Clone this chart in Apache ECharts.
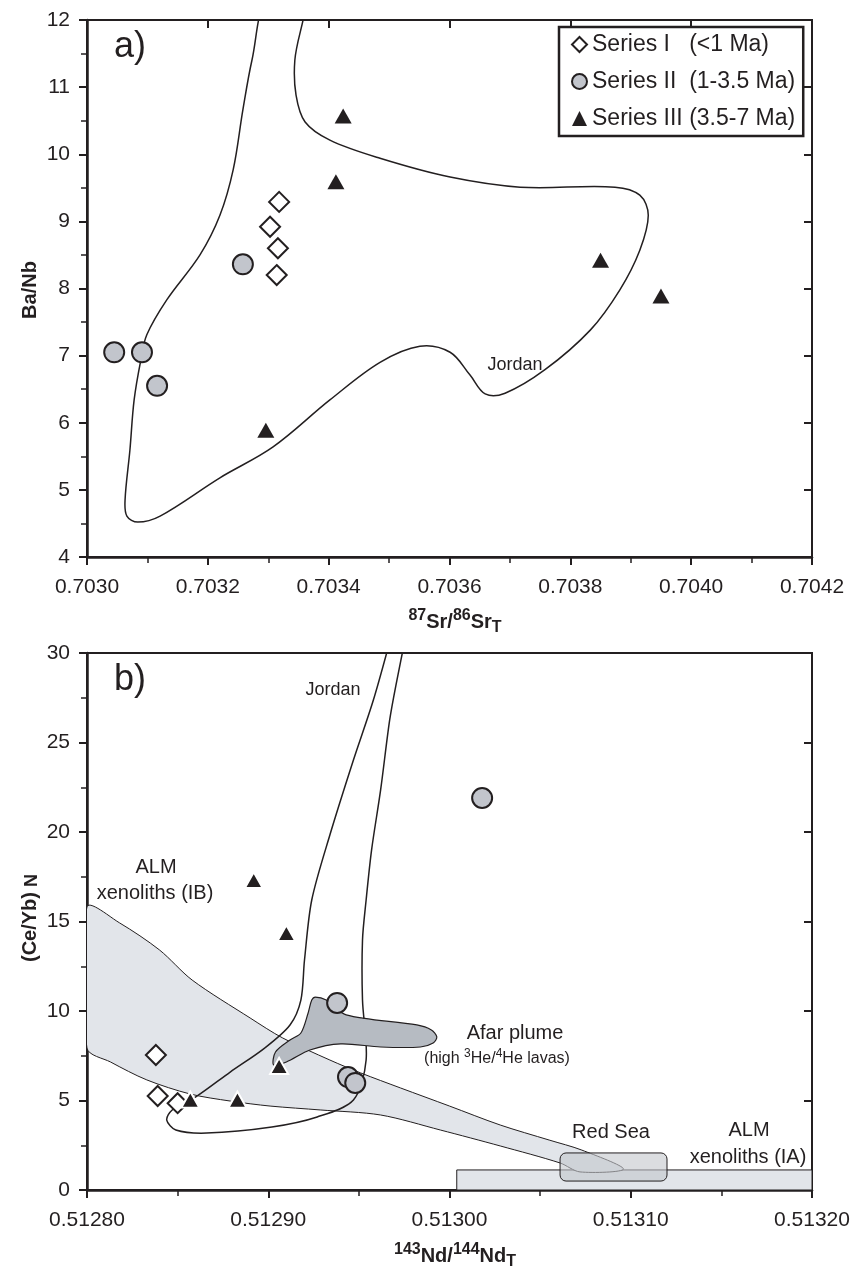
<!DOCTYPE html>
<html>
<head>
<meta charset="utf-8">
<script src="https://cdn.jsdelivr.net/npm/echarts@6/dist/echarts.min.js"></script>
<style>
html, body { margin: 0; padding: 0; background: #fff; }
#chart { width: 861px; height: 1272px; }
</style>
</head>
<body>
<div id="chart"></div>
<script>
const FONT = '"Liberation Sans", Arial, Helvetica, sans-serif';
const INK = '#231f20';

const legendNames = ['Series I   (<1 Ma)', 'Series II  (1-3.5 Ma)', 'Series III (3.5-7 Ma)'];

// a) Ba/Nb vs 87Sr/86Sr
const srI = [0.703318, 0.703303, 0.703316, 0.703314];
const baNbI = [9.29, 8.92, 8.60, 8.20];
const srII = [0.703258, 0.703045, 0.703091, 0.703116];
const baNbII = [8.36, 7.05, 7.05, 6.55];
const srIII = [0.703424, 0.703412, 0.703296, 0.70385, 0.70395];
const baNbIII = [10.57, 9.59, 5.89, 8.42, 7.89];

// b) (Ce/Yb)N vs 143Nd/144Nd
const ndI = [0.512838, 0.512839, 0.512850];
const ceYbI = [7.54, 5.25, 4.85];
const ndII = [0.512938, 0.513018, 0.512944, 0.512948];
const ceYbII = [10.45, 21.9, 6.31, 5.98];
const ndIII = [0.512857, 0.512883, 0.512906, 0.512892, 0.512910];
const ceYbIII = [5.05, 5.05, 6.93, 17.32, 14.36];

// field outlines
const jordanA = [
  [0.703301, 12.4], [0.703273, 11.40], [0.703258, 10.66], [0.703242, 9.77], [0.703220, 9.09],
  [0.703187, 8.50], [0.703132, 7.83], [0.703099, 7.31], [0.703089, 6.93], [0.703078, 6.34],
  [0.703071, 5.59], [0.703063, 4.85], [0.703066, 4.61], [0.703084, 4.52], [0.703121, 4.61],
  [0.703220, 5.18], [0.703308, 5.64], [0.703402, 6.34], [0.703485, 6.90], [0.703551, 7.14],
  [0.703601, 7.05], [0.703634, 6.71], [0.703659, 6.43], [0.703692, 6.44], [0.703758, 6.79],
  [0.703833, 7.38], [0.703882, 7.98], [0.703915, 8.57], [0.703929, 9.09], [0.703915, 9.39],
  [0.703874, 9.51], [0.703717, 9.51], [0.703601, 9.66], [0.703485, 9.94], [0.703402, 10.21],
  [0.703361, 10.48], [0.703346, 10.88], [0.703344, 11.40], [0.703359, 12.4]
];
const jordanB = [
  [0.512968, 31], [0.512958, 27.37], [0.512947, 24.02], [0.512934, 19.83], [0.512924, 16.20],
  [0.512920, 12.85], [0.512918, 10.61], [0.512912, 9.22], [0.512898, 7.93], [0.512879, 6.59],
  [0.512860, 5.20], [0.512847, 4.47], [0.512844, 3.91], [0.512849, 3.35], [0.512866, 3.18],
  [0.512902, 3.52], [0.512927, 4.08], [0.512947, 5.03], [0.512954, 7.26], [0.512952, 10.61],
  [0.512952, 13.97], [0.512954, 16.20], [0.512957, 18.99], [0.512962, 22.35], [0.512967, 26.26],
  [0.512971, 28.49], [0.512976, 31]
];
const almIB = [
  [0.512800, 15.81], [0.512818, 14.92], [0.512840, 13.41], [0.512858, 11.73], [0.512890, 9.61],
  [0.512908, 8.49], [0.512934, 7.26], [0.512951, 6.54], [0.512973, 5.70], [0.513000, 4.69],
  [0.513028, 3.63], [0.513055, 2.79], [0.513073, 2.23], [0.513096, 1.17],
  [0.513072, 1.01], [0.513061, 1.51], [0.513028, 2.46], [0.512995, 3.35], [0.512962, 4.19],
  [0.512929, 4.47], [0.512901, 4.69], [0.512879, 4.97], [0.512857, 5.36], [0.512833, 6.15],
  [0.512813, 7.15], [0.512800, 7.93]
];
const afarPlume = [
  [0.512926, 10.78], [0.512932, 10.61], [0.512943, 9.78], [0.512982, 9.22], [0.512990, 8.94],
  [0.512993, 8.55], [0.512991, 8.21], [0.512984, 7.99], [0.512962, 7.99], [0.512940, 8.16],
  [0.512923, 7.82], [0.512910, 7.15], [0.512903, 6.98], [0.512904, 7.71], [0.512912, 8.38],
  [0.512918, 8.77], [0.512922, 9.89], [0.512924, 10.61]
];
const almIA = [[0.513004, 0], [0.513004, 1.12], [0.51320, 1.12], [0.51320, 0]];
const redSeaX = [0.513061, 0.513120];
const redSeaY = [0.5, 2.07];

function zip(xs, ys) { return xs.map((x, i) => [x, ys[i]]); }

function fieldSeries(pts, xi, yi, style, z, closed, smooth) {
  return {
    type: 'custom', xAxisIndex: xi, yAxisIndex: yi, z: z, silent: true, clip: true,
    data: [pts[0]],
    renderItem: function (params, api) {
      return {
        type: closed ? 'polygon' : 'polyline',
        shape: { points: pts.map(p => api.coord(p)), smooth: smooth || 0 },
        style: style
      };
    }
  };
}

function pointSeries(name, xi, yi, data, symbol, size, itemStyle) {
  return {
    name: name, type: 'scatter', xAxisIndex: xi, yAxisIndex: yi, z: 10,
    symbol: symbol, symbolSize: size, data: data,
    itemStyle: Object.assign({ opacity: 1 }, itemStyle)
  };
}

const measureCtx = document.createElement('canvas').getContext('2d');
function fontStr(size, bold) { return (bold ? 'bold ' : '') + size + 'px ' + FONT; }
function label(text, x, y, size, bold) {
  return { type: 'text', x: x, y: y, z: 100,
    style: { text: text, font: fontStr(size, bold), fill: INK, textAlign: 'center', textVerticalAlign: 'middle' } };
}
function mixed(segs, cx, cy, rotation) {
  let total = 0;
  const widths = segs.map(s => {
    measureCtx.font = fontStr(s.size, s.bold);
    const w = measureCtx.measureText(s.t).width;
    total += w;
    return w;
  });
  let x = -total / 2;
  const children = segs.map((s, i) => {
    const el = { type: 'text', x: x, y: s.dy || 0,
      style: { text: s.t, font: fontStr(s.size, s.bold), fill: INK, textAlign: 'left', textVerticalAlign: 'middle' } };
    x += widths[i];
    return el;
  });
  return { type: 'group', x: cx, y: cy, rotation: rotation || 0, z: 100, children: children };
}

function valueAxis(grid, min, max, interval, digits, isX) {
  return {
    type: 'value', gridIndex: grid, min: min, max: max, interval: interval,
    axisLine: { show: true, onZero: false, lineStyle: { color: INK, width: 2.5 } },
    axisTick: { show: true, inside: false, length: 8, lineStyle: { color: INK, width: 2 } },
    minorTick: { show: true, splitNumber: 2, length: 6, lineStyle: { color: INK, width: 1.5 } },
    splitLine: { show: false },
    axisLabel: {
      margin: isX ? 20 : 17, fontSize: 21, color: INK, fontFamily: FONT,
      formatter: v => digits ? v.toFixed(digits) : String(Math.round(v))
    }
  };
}
function innerTicks(grid, min, max, interval) {
  return {
    type: 'value', gridIndex: grid, min: min, max: max, interval: interval,
    axisLine: { show: false }, axisLabel: { show: false }, splitLine: { show: false },
    axisTick: { show: true, inside: true, length: 8, lineStyle: { color: INK, width: 2 } }
  };
}

const diamondStyle = { color: '#ffffff', borderColor: INK, borderWidth: 2 };
const circleStyle = { color: '#c2c5cc', borderColor: INK, borderWidth: 2 };
const triA = { color: INK };
const triB = { color: INK, borderColor: '#ffffff', borderWidth: 2 };

const option = {
  animation: false,
  backgroundColor: '#ffffff',
  grid: [
    { left: 87, top: 20, width: 725, height: 537, show: true, borderColor: INK, borderWidth: 2 },
    { left: 87, top: 653, width: 725, height: 537, show: true, borderColor: INK, borderWidth: 2 }
  ],
  xAxis: [
    valueAxis(0, 0.7030, 0.7042, 0.0002, 4, true),
    innerTicks(0, 0.7030, 0.7042, 0.0002),
    valueAxis(1, 0.5128, 0.5132, 0.0001, 5, true),
    innerTicks(1, 0.5128, 0.5132, 0.0001)
  ],
  yAxis: [
    valueAxis(0, 4, 12, 1, 0, false),
    innerTicks(0, 4, 12, 1),
    valueAxis(1, 0, 30, 5, 0, false),
    innerTicks(1, 0, 30, 5)
  ],
  legend: {
    left: 559, top: 27, orient: 'vertical', itemGap: 14,
    borderColor: INK, borderWidth: 2.5, padding: [6, 8, 6, 12],
    itemWidth: 15, itemHeight: 15, selectedMode: false,
    textStyle: { fontSize: 23, color: INK, fontFamily: FONT },
    data: legendNames
  },
  series: [
    fieldSeries(jordanA, 0, 0, { fill: 'none', stroke: INK, lineWidth: 1.5 }, 2, true, 0.35),
    pointSeries(legendNames[0], 0, 0, zip(srI, baNbI), 'diamond', 20, diamondStyle),
    pointSeries(legendNames[1], 0, 0, zip(srII, baNbII), 'circle', 20, circleStyle),
    pointSeries(legendNames[2], 0, 0, zip(srIII, baNbIII), 'triangle', [17, 15], triA),

    fieldSeries(almIA, 2, 2, { fill: '#e2e5ea', stroke: INK, lineWidth: 1 }, 1, true, 0),
    fieldSeries(almIB, 2, 2, { fill: '#e2e5ea', stroke: INK, lineWidth: 1 }, 2, true, 0.3),
    fieldSeries(jordanB, 2, 2, { fill: 'none', stroke: INK, lineWidth: 1.5 }, 3, false, 0.3),
    fieldSeries(afarPlume, 2, 2, { fill: '#b6bbc2', stroke: INK, lineWidth: 1.2 }, 4, true, 0.3),
    {
      type: 'custom', xAxisIndex: 2, yAxisIndex: 2, z: 5, silent: true, clip: true,
      data: [[redSeaX[0], redSeaY[0]]],
      renderItem: function (params, api) {
        const p0 = api.coord([redSeaX[0], redSeaY[1]]);
        const p1 = api.coord([redSeaX[1], redSeaY[0]]);
        return {
          type: 'rect',
          shape: { x: p0[0], y: p0[1], width: p1[0] - p0[0], height: p1[1] - p0[1], r: 6 },
          style: { fill: 'rgba(195,198,204,0.6)', stroke: INK, lineWidth: 1 }
        };
      }
    },
    pointSeries(legendNames[0], 2, 2, zip(ndI, ceYbI), 'diamond', 20, diamondStyle),
    pointSeries(legendNames[1], 2, 2, zip(ndII, ceYbII), 'circle', 20, circleStyle),
    pointSeries(legendNames[2], 2, 2, zip(ndIII, ceYbIII), 'triangle', [18, 16], triB)
  ],
  graphic: [
    label('a)', 130, 47, 36, false),
    label('Jordan', 515, 365, 18, false),
    mixed([{ t: 'Ba/Nb', size: 20, bold: true }], 30, 290, Math.PI / 2),
    mixed([
      { t: '87', size: 16, bold: true, dy: -6 }, { t: 'Sr/', size: 20, bold: true },
      { t: '86', size: 16, bold: true, dy: -6 }, { t: 'Sr', size: 20, bold: true },
      { t: 'T', size: 16, bold: true, dy: 6 }
    ], 455, 622, 0),

    label('b)', 130, 680, 36, false),
    label('Jordan', 333, 690, 18, false),
    label('ALM', 156, 867, 20, false),
    label('xenoliths (IB)', 155, 893, 20, false),
    label('Afar plume', 515, 1033, 20, false),
    mixed([
      { t: '(high ', size: 16 }, { t: '3', size: 12, dy: -5 }, { t: 'He/', size: 16 },
      { t: '4', size: 12, dy: -5 }, { t: 'He lavas)', size: 16 }
    ], 497, 1059, 0),
    label('Red Sea', 611, 1132, 20, false),
    label('ALM', 749, 1130, 20, false),
    label('xenoliths (IA)', 748, 1157, 20, false),
    mixed([{ t: '(Ce/Yb)', size: 20, bold: true }, { t: ' N', size: 18, bold: true, dy: 2 }], 30, 918, Math.PI / 2),
    mixed([
      { t: '143', size: 16, bold: true, dy: -6 }, { t: 'Nd/', size: 20, bold: true },
      { t: '144', size: 16, bold: true, dy: -6 }, { t: 'Nd', size: 20, bold: true },
      { t: 'T', size: 16, bold: true, dy: 6 }
    ], 455, 1256, 0)
  ]
};

const chart = echarts.init(document.getElementById('chart'), null, { renderer: 'canvas' });
chart.setOption(option);
</script>
</body>
</html>
